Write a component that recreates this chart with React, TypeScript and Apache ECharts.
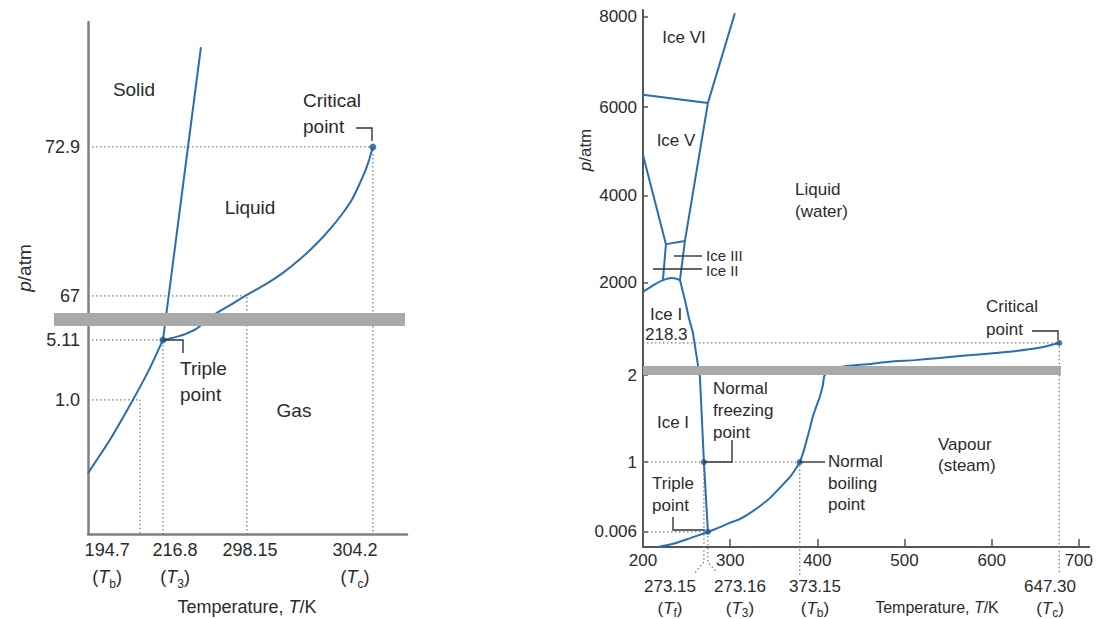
import React, { useEffect, useRef } from 'react';
import * as echarts from 'echarts';

// ---------- Left panel: CO2 (schematic, broken axes, display units 0-100) ----------
const co2XTickPos = [6.0, 27.3, 50.8, 83.7];
const co2XTickVal = ['194.7', '216.8', '298.15', '304.2'];
const co2XTickSub = ['b', '3', '', 'c'];
const co2YTickPos = [75.6, 46.5, 37.9, 26.2];
const co2YTickVal = ['72.9', '67', '5.11', '1.0'];

const co2Sublimation = [[0, 11.9], [6.9, 18.4], [14.1, 26.2], [19.4, 32.4], [23.5, 37.9]];
const co2Melting = [[23.5, 37.9], [35.4, 95.1]];
const co2Vaporization = [
  [23.5, 37.9], [25.7, 38.2], [28.2, 38.6], [30.7, 39.1], [33.5, 39.9], [36.7, 41.4], [40.4, 43.2],
  [45.1, 44.9], [49.8, 46.7], [55.5, 48.7], [61.1, 51.0], [66.5, 53.7], [71.8, 56.8], [76.2, 59.8],
  [79.9, 62.7], [82.8, 65.4], [85.3, 68.6], [87.5, 71.9], [89.3, 75.6],
];
const co2Guides = [
  [[0, 75.6], [89.3, 75.6], [89.3, 0]],
  [[0, 46.5], [49.8, 46.5], [49.8, 0]],
  [[0, 37.9], [23.5, 37.9], [23.5, 0]],
  [[0, 26.2], [16.3, 26.2], [16.3, 0]],
];
const co2Points = [[23.5, 37.9], [89.3, 75.6]];

// ---------- Right panel: H2O (x in K, y schematic display units 0-100) ----------
const h2oXTicks = [300, 400, 500, 600, 700];
const h2oXLabels = [200, 300, 400, 500, 600, 700];
const h2oYTickPos = [98.7, 81.9, 65.5, 49.2, 32.0, 15.8, 2.8];
const h2oYTickVal = ['8000', '6000', '4000', '2000', '2', '1', '0.006'];
const h2oSpecialT = ['273.15', '273.16', '373.15', '647.30'];
const h2oSpecialSub = ['f', '3', 'b', 'c'];

const iceVI_liquid = [[274.5, 82.7], [305.4, 99.4]];
const iceV_VI = [[200, 84.2], [274.5, 82.7]];
const meltingCurve = [
  [274.5, 82.7], [248.1, 57.0], [242.4, 49.7], [248.1, 46.0], [252.7, 42.6], [257.3, 39.9],
  [263.0, 33.9], [265.3, 31.7], [269.9, 15.8], [274.5, 2.8],
];
const iceV_III = [[226.3, 56.4], [248.1, 57.0]];
const iceII_V = [[200, 73.0], [226.3, 56.4]];
const iceII_III = [[226.3, 56.4], [222.9, 49.7]];
const iceI_dome = [[200, 47.5], [210.3, 48.6], [222.9, 49.7], [233.2, 50.1], [242.4, 49.7]];
const vaporization = [
  [274.5, 2.8], [288.2, 3.7], [299.6, 4.5], [311.1, 5.2], [322.6, 6.3], [334.0, 7.6], [345.5, 9.1],
  [356.9, 11.0], [368.4, 13.0], [374.1, 14.3], [379.8, 15.8], [384.4, 17.9], [387.8, 19.9],
  [391.3, 22.0], [394.7, 24.2], [399.3, 26.4], [402.7, 27.9], [406.2, 30.0], [408.5, 32.0],
  [421.1, 33.3], [434.8, 33.7], [460.0, 34.1], [482.9, 34.5], [511.5, 34.8], [540.2, 35.2],
  [580.3, 35.8], [616.9, 36.3], [654.7, 37.1], [677.6, 38.0],
];
const sublimation = [[274.5, 2.8], [254.9, 1.7], [236.7, 0.7], [217.2, 0]];
const h2oGuides = [
  [[200, 38.0], [677.6, 38.0], [677.6, -4.8]],
  [[200, 15.8], [379.8, 15.8], [379.8, -5.2]],
  [[200, 2.8], [274.5, 2.8]],
  [[269.9, 15.8], [269.9, -2.8], [259.6, -4.8]],
  [[274.5, 2.8], [274.5, -2.8], [284.8, -4.8]],
];
const h2oPoints = [[274.5, 2.8], [269.9, 15.8], [379.8, 15.8], [677.6, 38.0]];

const FONT = '"Liberation Sans", Arial, Helvetica, sans-serif';
const TXT = '#2b2b2b';
const BLUE = '#2a6db0';
const DOT = '#1b5a94';
const GUIDE = '#7d7d7d';

function findIdx(arr: number[], v: number) {
  for (let i = 0; i < arr.length; i++) if (Math.abs(arr[i] - v) < 0.05) return i;
  return -1;
}

function text(t: string, x: number, y: number, size: number, o: any = {}) {
  const lh = o.lineHeight || Math.round(size * 1.25);
  return {
    type: 'text',
    x,
    y,
    z: 120,
    rotation: o.rotation || 0,
    style: {
      text: t,
      fill: TXT,
      fontSize: size,
      fontFamily: FONT,
      align: o.align || 'left',
      verticalAlign: 'middle',
      lineHeight: lh,
      rich: {
        n: { fontSize: size, fontFamily: FONT, fill: TXT, lineHeight: lh },
        i: { fontSize: size, fontFamily: FONT, fill: TXT, fontStyle: 'italic', lineHeight: lh },
        s: { fontSize: Math.round(size * 0.68), fontFamily: FONT, fill: TXT, lineHeight: lh - 6, verticalAlign: 'bottom' },
      },
    },
  };
}

function poly(points: number[][]) {
  return {
    type: 'polyline',
    z: 120,
    shape: { points },
    style: { stroke: '#333', lineWidth: 1.4, fill: null },
  };
}

function lineSeries(data: number[][], idx: number, smooth: number | boolean = false) {
  return {
    type: 'line',
    xAxisIndex: idx,
    yAxisIndex: idx,
    data,
    symbol: 'none',
    smooth,
    lineStyle: { color: BLUE, width: 2 },
    z: 3,
  };
}

function guideSeries(data: number[][], idx: number) {
  return {
    type: 'line',
    xAxisIndex: idx,
    yAxisIndex: idx,
    data,
    symbol: 'none',
    clip: false,
    lineStyle: { color: GUIDE, width: 1.3, type: [1.5, 2.5] },
    z: 2,
  };
}

export default function App() {
  const ref = useRef<HTMLDivElement>(null);
  useEffect(() => {
    if (!ref.current) return;
    const chart = echarts.init(ref.current, null, { renderer: 'svg' });

    const xRichL = {
      n: { fontSize: 18, fontFamily: FONT, color: TXT, lineHeight: 27 },
      i: { fontSize: 18, fontFamily: FONT, color: TXT, fontStyle: 'italic', lineHeight: 27 },
      s: { fontSize: 12, fontFamily: FONT, color: TXT, lineHeight: 16, verticalAlign: 'bottom' },
    };

    const series: any[] = [
      ...co2Guides.map((g) => guideSeries(g, 0)),
      lineSeries(co2Sublimation, 0, 0.2),
      lineSeries(co2Melting, 0),
      lineSeries(co2Vaporization, 0, 0.3),
      {
        type: 'scatter', xAxisIndex: 0, yAxisIndex: 0, data: co2Points, symbolSize: 7,
        itemStyle: { color: DOT }, z: 5,
      },
      ...h2oGuides.map((g) => guideSeries(g, 1)),
      lineSeries(iceVI_liquid, 1),
      lineSeries(iceV_VI, 1),
      lineSeries(meltingCurve, 1),
      lineSeries(iceV_III, 1),
      lineSeries(iceII_V, 1),
      lineSeries(iceII_III, 1),
      lineSeries(iceI_dome, 1, 0.4),
      lineSeries(vaporization, 1, 0.2),
      lineSeries(sublimation, 1, 0.3),
      {
        type: 'scatter', xAxisIndex: 1, yAxisIndex: 1, data: h2oPoints, symbolSize: 6,
        itemStyle: { color: DOT }, z: 5,
      },
    ];

    const specialX = [670, 740, 815, 1050];
    const graphic: any[] = [
      // axis-break bars
      { type: 'rect', z: 100, shape: { x: 54, y: 313, width: 351, height: 13 }, style: { fill: '#a9a9a9' } },
      { type: 'rect', z: 100, shape: { x: 643, y: 366, width: 418, height: 9 }, style: { fill: '#a9a9a9' } },
      // left panel texts
      text('Solid', 134, 89, 19, { align: 'center' }),
      text('Liquid', 250, 207, 19, { align: 'center' }),
      text('Gas', 294, 410, 19, { align: 'center' }),
      text('Critical\npoint', 303, 113, 19, { lineHeight: 26 }),
      text('Triple\npoint', 180, 381, 19, { lineHeight: 26 }),
      text('{i|p}{n|/atm}', 24, 268, 19, { align: 'center', rotation: Math.PI / 2 }),
      text('{n|Temperature, }{i|T}{n|/K}', 247, 607, 18, { align: 'center' }),
      poly([[356, 128], [372, 128], [372, 141]]),
      poly([[163, 340], [183, 340], [183, 353]]),
      // right panel texts
      text('Ice VI', 684, 37, 17, { align: 'center' }),
      text('Ice V', 676, 140, 17, { align: 'center' }),
      text('Liquid\n(water)', 795, 200, 17, { lineHeight: 22 }),
      text('Ice III', 706, 255, 15, { lineHeight: 12 }),
      text('Ice II', 706, 270, 15, { lineHeight: 12 }),
      text('Ice I', 650, 314, 17),
      text('218.3', 645, 334, 17),
      text('Normal\nfreezing\npoint', 713, 410, 17, { lineHeight: 22 }),
      text('Triple\npoint', 652, 494, 17, { lineHeight: 22 }),
      text('Ice I', 673, 422, 17, { align: 'center' }),
      text('Normal\nboiling\npoint', 828, 483, 17, { lineHeight: 21.5 }),
      text('Vapour\n(steam)', 938, 455, 17, { lineHeight: 21 }),
      text('Critical\npoint', 986, 318, 17, { lineHeight: 23 }),
      text('{i|p}{n|/atm}', 585, 150, 17, { align: 'center', rotation: Math.PI / 2 }),
      text('{n|Temperature, }{i|T}{n|/K}', 937, 607, 16, { align: 'center' }),
      ...h2oSpecialT.map((t, k) =>
        text(`{n|${t}}\n{n|(}{i|T}{s|${h2oSpecialSub[k]}}{n|)}`, specialX[k], 597, 17, { align: 'center', lineHeight: 22 })
      ),
      poly([[674, 256], [702, 256]]),
      poly([[653, 269], [702, 269]]),
      poly([[704, 462], [732, 462], [732, 440]]),
      poly([[673, 517], [673, 530], [705, 530]]),
      poly([[800, 462], [825, 462]]),
      poly([[1032, 331], [1058, 331], [1058, 340]]),
    ];

    const option: any = {
      animation: false,
      backgroundColor: '#ffffff',
      grid: [
        { left: 88, top: 22, width: 319, height: 512 },
        { left: 643, top: 10, width: 447, height: 537 },
      ],
      xAxis: [
        {
          type: 'value', gridIndex: 0, min: 0, max: 100,
          axisLine: { onZero: false, lineStyle: { color: '#808080', width: 2.5 } },
          axisTick: { show: false },
          splitLine: { show: false },
          axisLabel: {
            customValues: co2XTickPos,
            margin: 2,
            formatter: (v: number) => {
              const i = findIdx(co2XTickPos, v);
              if (i < 0) return '';
              const sub = co2XTickSub[i];
              return sub ? `{n|${co2XTickVal[i]}}\n{n|(}{i|T}{s|${sub}}{n|)}` : `{n|${co2XTickVal[i]}}`;
            },
            rich: xRichL,
          },
        },
        {
          type: 'value', gridIndex: 1, min: 200, max: 712,
          axisLine: { onZero: false, lineStyle: { color: '#555', width: 2 } },
          axisTick: { show: true, inside: true, length: 8, customValues: h2oXTicks, lineStyle: { color: '#555', width: 1.5 } },
          splitLine: { show: false },
          axisLabel: {
            customValues: h2oXLabels, margin: 5, fontSize: 17, fontFamily: FONT, color: TXT,
            formatter: (v: number) => String(Math.round(v)),
          },
        },
      ],
      yAxis: [
        {
          type: 'value', gridIndex: 0, min: 0, max: 100,
          axisLine: { show: true, onZero: false, lineStyle: { color: '#808080', width: 2.5 } },
          axisTick: { show: false },
          splitLine: { show: false },
          axisLabel: {
            customValues: co2YTickPos, margin: 8, fontSize: 18, fontFamily: FONT, color: TXT,
            formatter: (v: number) => {
              const i = findIdx(co2YTickPos, v);
              return i < 0 ? '' : co2YTickVal[i];
            },
          },
        },
        {
          type: 'value', gridIndex: 1, min: 0, max: 100,
          axisLine: { show: true, onZero: false, lineStyle: { color: '#555', width: 2 } },
          axisTick: { show: true, inside: true, length: 5, customValues: h2oYTickPos, lineStyle: { color: '#555', width: 1.5 } },
          splitLine: { show: false },
          axisLabel: {
            customValues: h2oYTickPos, margin: 6, fontSize: 17, fontFamily: FONT, color: TXT,
            formatter: (v: number) => {
              const i = findIdx(h2oYTickPos, v);
              return i < 0 ? '' : h2oYTickVal[i];
            },
          },
        },
      ],
      series,
      graphic,
    };
    chart.setOption(option);
    return () => chart.dispose();
  }, []);
  return (
    <div
      ref={ref}
      style={{ position: 'fixed', left: 0, top: 0, width: 1096, height: 619, background: '#fff' }}
    />
  );
}
